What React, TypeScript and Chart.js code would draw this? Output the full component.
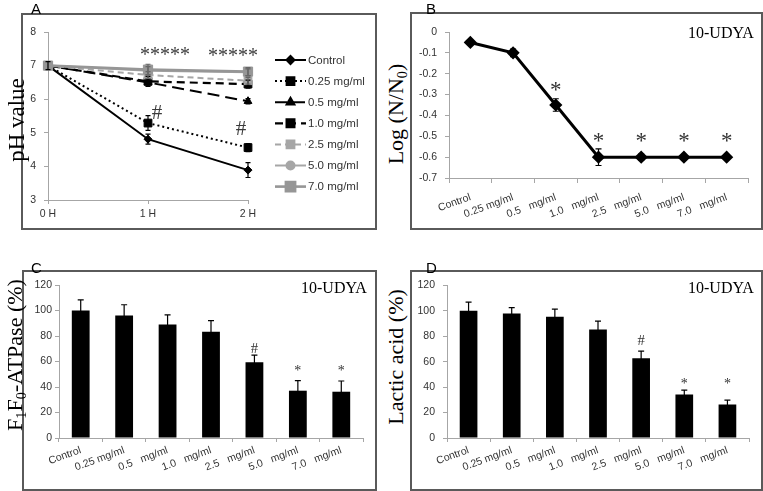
import React, { useEffect, useRef } from 'react';
import { Chart, registerables } from 'chart.js';
import { drawPoint } from 'chart.js/helpers';

Chart.register(...registerables);

// ---------- data ----------
const timeLabels = ['0 H', '1 H', '2 H'];
const seriesNames = ['Control', '0.25 mg/ml', '0.5 mg/ml', '1.0 mg/ml', '2.5 mg/ml', '5.0 mg/ml', '7.0 mg/ml'];
const phControl = [7.0, 4.81, 3.89];
const ph025 = [7.0, 5.29, 4.56];
const ph05 = [7.0, 6.5, 5.94];
const ph10 = [7.0, 6.53, 6.45];
const ph25 = [7.0, 6.72, 6.55];
const ph50 = [7.0, 6.85, 6.8];
const ph70 = [7.0, 6.88, 6.82];
const phErrControl = [0.12, 0.15, 0.22];
const phErr025 = [0, 0.22, 0.12];
const phErr05 = [0, 0.1, 0.08];
const phErr10 = [0, 0.15, 0.12];
const phErr25 = [0, 0.1, 0.1];
const phErr50 = [0, 0.12, 0.1];
const phErr70 = [0, 0.16, 0.12];

const doseLabels = ['Control', '0.25 mg/ml', '0.5   mg/ml', '1.0   mg/ml', '2.5   mg/ml', '5.0   mg/ml', '7.0   mg/ml'];
const logSurvival = [-0.05, -0.1, -0.35, -0.6, -0.6, -0.6, -0.6];
const logSurvivalErr = [0, 0.018, 0.03, 0.04, 0.015, 0, 0];
const atpase = [100, 96, 89, 83.4, 59.5, 37.1, 36.3];
const atpaseErr = [8.4, 8.5, 7.6, 8.7, 5.5, 7.9, 8.4];
const lactic = [100, 97.9, 95.3, 85.3, 62.6, 34.2, 26.3];
const lacticErr = [6.8, 4.5, 6, 6.5, 5.6, 3.4, 3.4];

// significance marks: [text, category index, value]
const marksA: [string, number, number][] = [
  ['*****', 1, 7.3],
  ['*****', 2, 7.25],
  ['#', 1, 5.57],
  ['#', 2, 5.09],
];
const marksB: [string, number, number][] = [
  ['*', 2, -0.285],
  ['*', 3, -0.525],
  ['*', 4, -0.525],
  ['*', 5, -0.525],
  ['*', 6, -0.525],
];
const marksC: [string, number, number][] = [
  ['#', 4, 69.8],
  ['*', 5, 52],
  ['*', 6, 52],
];
const marksD: [string, number, number][] = [
  ['#', 4, 75.8],
  ['*', 5, 42],
  ['*', 6, 42],
];

// ---------- plugins ----------
const errorBarPlugin = {
  id: 'errorBars',
  afterDatasetsDraw(chart: any) {
    const ctx = chart.ctx;
    const yScale = chart.scales.y;
    chart.data.datasets.forEach((ds: any, di: number) => {
      const errs: number[] | undefined = ds.errors;
      if (!errs) return;
      const meta = chart.getDatasetMeta(di);
      ctx.save();
      ctx.strokeStyle = ds.errorColor || '#000';
      ctx.lineWidth = ds.errorWidth || 1.2;
      ctx.setLineDash([]);
      meta.data.forEach((el: any, i: number) => {
        const e = errs[i];
        if (!e) return;
        const v = ds.data[i];
        const x = el.x;
        const yTop = yScale.getPixelForValue(v + e);
        const yBot = yScale.getPixelForValue(v - e);
        const cap = ds.capWidth ?? 3;
        ctx.beginPath();
        ctx.moveTo(x, yTop);
        ctx.lineTo(x, yBot);
        ctx.moveTo(x - cap, yTop);
        ctx.lineTo(x + cap, yTop);
        if (!ds.upperOnly) {
          ctx.moveTo(x - cap, yBot);
          ctx.lineTo(x + cap, yBot);
        }
        ctx.stroke();
      });
      ctx.restore();
    });
  },
};

function makeMarksPlugin(items: [string, number, number][], size: number, color: string, dxs: number[] = []) {
  return {
    id: 'marks',
    afterDraw(chart: any) {
      const ctx = chart.ctx;
      const xs = chart.scales.x;
      const ys = chart.scales.y;
      ctx.save();
      ctx.fillStyle = color;
      ctx.textAlign = 'center';
      ctx.textBaseline = 'middle';
      items.forEach(([text, idx, val], k) => {
        const sz = text === '#' ? size * 1.05 : size;
        ctx.font = `${sz}px "Liberation Serif"`;
        const x = xs.getPixelForValue(idx) + (dxs[k] || 0);
        const y = ys.getPixelForValue(val);
        ctx.fillText(text, x, y);
      });
      ctx.restore();
    },
  };
}

const legendPlugin = {
  id: 'lineLegend',
  afterDraw(chart: any) {
    const ctx = chart.ctx;
    const x0 = chart.chartArea.right + 27;
    const y0 = 46;
    const gap = 21.1;
    chart.data.datasets.forEach((ds: any, i: number) => {
      const y = y0 + i * gap;
      ctx.save();
      ctx.strokeStyle = ds.borderColor;
      ctx.lineWidth = ds.borderWidth;
      ctx.setLineDash(ds.borderDash || []);
      ctx.beginPath();
      ctx.moveTo(x0, y);
      ctx.lineTo(x0 + 31, y);
      ctx.stroke();
      ctx.setLineDash([]);
      ctx.fillStyle = ds.pointBackgroundColor;
      ctx.strokeStyle = ds.pointBorderColor;
      drawPoint(ctx, { pointStyle: ds.pointStyle, radius: ds.pointRadius, rotation: 0, borderWidth: 1 } as any, x0 + 15.5, y);
      ctx.fillStyle = '#333';
      ctx.font = '11.5px "Liberation Sans"';
      ctx.textAlign = 'left';
      ctx.textBaseline = 'middle';
      ctx.fillText(ds.label, x0 + 33, y + 0.5);
      ctx.restore();
    });
  },
};

// ---------- shared styling ----------
const tickFont = { family: '"Liberation Sans"', size: 10.5 };
const tickColor = '#333';
const axisColor = '#a6a6a6';

function yAxis(min: number, max: number, step: number, width: number, pad: number, fmt?: (v: number) => string) {
  return {
    min,
    max,
    ticks: {
      stepSize: step,
      font: tickFont,
      color: tickColor,
      padding: pad,
      callback: fmt ? (v: any) => fmt(Number(v)) : undefined,
    },
    grid: { drawOnChartArea: false, color: axisColor, tickLength: 4 },
    border: { color: axisColor },
    afterFit: (s: any) => {
      s.width = width;
    },
  };
}

function xAxis(height: number, rotation: number, tickLen: number, pad: number, offset: boolean) {
  return {
    offset,
    ticks: { font: tickFont, color: tickColor, padding: pad, minRotation: rotation, maxRotation: rotation, autoSkip: false },
    grid: { drawOnChartArea: false, color: axisColor, tickLength: tickLen, offset },
    border: { color: axisColor },
    afterFit: (s: any) => {
      s.height = height;
    },
  };
}

// ---------- chart configs ----------
function buildA(): any {
  const values = [phControl, ph025, ph05, ph10, ph25, ph50, ph70];
  const errors = [phErrControl, phErr025, phErr05, phErr10, phErr25, phErr50, phErr70];
  const colors = ['#000', '#000', '#000', '#000', '#a6a6a6', '#a6a6a6', '#969696'];
  const dashes = [[], [2, 3], [12, 6], [8, 5], [6, 4], [], []];
  const styles = ['rectRot', 'rect', 'triangle', 'rect', 'rect', 'circle', 'rect'];
  const radii = [4, 5.5, 4.5, 5.5, 5.5, 4, 6.5];
  const widths = [2, 2, 2, 2.2, 2, 2, 2.6];
  return {
    type: 'line',
    data: {
      labels: timeLabels,
      datasets: values.map((d, i) => ({
        label: seriesNames[i],
        data: d,
        errors: errors[i],
        errorColor: i >= 4 ? '#666' : '#000',
        capWidth: 2.5,
        borderColor: colors[i],
        backgroundColor: colors[i],
        pointBackgroundColor: colors[i],
        pointBorderColor: colors[i],
        borderWidth: widths[i],
        borderDash: dashes[i],
        pointStyle: styles[i],
        pointRadius: radii[i],
        pointBorderWidth: 1,
        tension: 0,
        clip: false,
        order: 10 - i,
      })),
    },
    options: {
      animation: false,
      responsive: false,
      layout: { padding: { left: 0, top: 18, right: 128, bottom: 0 } },
      plugins: { legend: { display: false }, tooltip: { enabled: false } },
      scales: {
        x: xAxis(29, 0, 4, 4, false),
        y: yAxis(3, 8, 1, 26, 8),
      },
    },
    plugins: [errorBarPlugin, legendPlugin, makeMarksPlugin(marksA, 20, '#3a3a3a', [17, -15, 9, -7])],
  };
}

function buildB(): any {
  return {
    type: 'line',
    data: {
      labels: doseLabels,
      datasets: [
        {
          label: 'Log (N/N0)',
          data: logSurvival,
          errors: logSurvivalErr,
          capWidth: 3,
          borderColor: '#000',
          backgroundColor: '#000',
          borderWidth: 3,
          pointStyle: 'rectRot',
          pointRadius: 4.5,
          pointBackgroundColor: '#000',
          pointBorderColor: '#000',
          tension: 0,
          clip: false,
        },
      ],
    },
    options: {
      animation: false,
      responsive: false,
      layout: { padding: { left: 0, top: 19, right: 14, bottom: 0 } },
      plugins: { legend: { display: false }, tooltip: { enabled: false } },
      scales: {
        x: xAxis(51, 20, 5, 8, true),
        y: yAxis(-0.7, 0, 0.1, 38, 8, (v) => String(Math.round(v * 10) / 10)),
      },
    },
    plugins: [errorBarPlugin, makeMarksPlugin(marksB, 23, '#333')],
  };
}

function buildBar(values: number[], errs: number[], marks: [string, number, number][], yPad: number): any {
  return {
    type: 'bar',
    data: {
      labels: doseLabels,
      datasets: [
        {
          label: 'value',
          data: values,
          errors: errs,
          upperOnly: true,
          capWidth: 3,
          backgroundColor: '#000',
          borderWidth: 0,
          categoryPercentage: 1,
          barPercentage: 0.41,
        },
      ],
    },
    options: {
      animation: false,
      responsive: false,
      layout: { padding: { left: 0, top: 14, right: 13, bottom: 0 } },
      plugins: { legend: { display: false }, tooltip: { enabled: false } },
      scales: {
        x: xAxis(52, 20, 4, 2, true),
        y: yAxis(0, 120, 20, 36, yPad),
      },
    },
    plugins: [errorBarPlugin, makeMarksPlugin(marks, 14, '#333')],
  };
}

// ---------- components ----------
function ChartCanvas({ build, left, top, width, height }: { build: () => any; left: number; top: number; width: number; height: number }) {
  const ref = useRef<HTMLCanvasElement>(null);
  useEffect(() => {
    const chart = new Chart(ref.current as HTMLCanvasElement, build());
    return () => chart.destroy();
  }, []);
  return (
    <canvas
      ref={ref}
      width={width}
      height={height}
      style={{ position: 'absolute', left, top, width, height }}
    />
  );
}

const boxStyle = (left: number, top: number, width: number, height: number): React.CSSProperties => ({
  position: 'absolute',
  left,
  top,
  width,
  height,
  boxSizing: 'border-box',
  border: '2px solid #5a5a5a',
});

const letterStyle = (left: number, top: number): React.CSSProperties => ({
  position: 'absolute',
  left,
  top,
  font: '15px "Liberation Sans"',
  lineHeight: 1,
  color: '#000',
});

const yTitleStyle = (cx: number, cy: number, size: number): React.CSSProperties => ({
  position: 'absolute',
  left: cx,
  top: cy,
  transform: 'translate(-50%, -50%) rotate(-90deg)',
  whiteSpace: 'nowrap',
  font: `${size}px "Liberation Serif"`,
  lineHeight: 1,
  color: '#000',
});

const tagStyle = (left: number, top: number): React.CSSProperties => ({
  position: 'absolute',
  left,
  top,
  font: '16px "Liberation Serif"',
  lineHeight: 1,
  color: '#000',
  whiteSpace: 'nowrap',
});

const sub: React.CSSProperties = { fontSize: '0.65em', verticalAlign: '-0.3em' };

export default function App() {
  return (
    <div style={{ position: 'absolute', left: 0, top: 0, width: 763, height: 491, background: '#fff', overflow: 'hidden' }}>
      <div style={boxStyle(21, 13, 356, 217)} />
      <div style={boxStyle(410, 12, 353, 218)} />
      <div style={boxStyle(22, 270, 355, 221)} />
      <div style={boxStyle(410, 270, 353, 221)} />

      <ChartCanvas build={buildA} left={22} top={14} width={354} height={215} />
      <ChartCanvas build={buildB} left={411} top={13} width={351} height={216} />
      <ChartCanvas build={() => buildBar(atpase, atpaseErr, marksC, 3)} left={23} top={271} width={353} height={219} />
      <ChartCanvas build={() => buildBar(lactic, lacticErr, marksD, 8)} left={411} top={271} width={351} height={219} />

      <div style={letterStyle(31, 1)}>A</div>
      <div style={letterStyle(426, 1)}>B</div>
      <div style={letterStyle(31, 260)}>C</div>
      <div style={letterStyle(426, 260)}>D</div>

      <div style={yTitleStyle(16, 120, 23)}>pH value</div>
      <div style={yTitleStyle(397, 114, 22)}>
        Log (N/N<span style={sub}>0</span>)
      </div>
      <div style={yTitleStyle(16, 355, 22)}>
        F<span style={sub}>1</span>F<span style={sub}>0</span>-ATPase (%)
      </div>
      <div style={yTitleStyle(396, 357, 22)}>Lactic acid (%)</div>

      <div style={tagStyle(688, 25)}>10-UDYA</div>
      <div style={tagStyle(301, 280)}>10-UDYA</div>
      <div style={tagStyle(688, 280)}>10-UDYA</div>
    </div>
  );
}
